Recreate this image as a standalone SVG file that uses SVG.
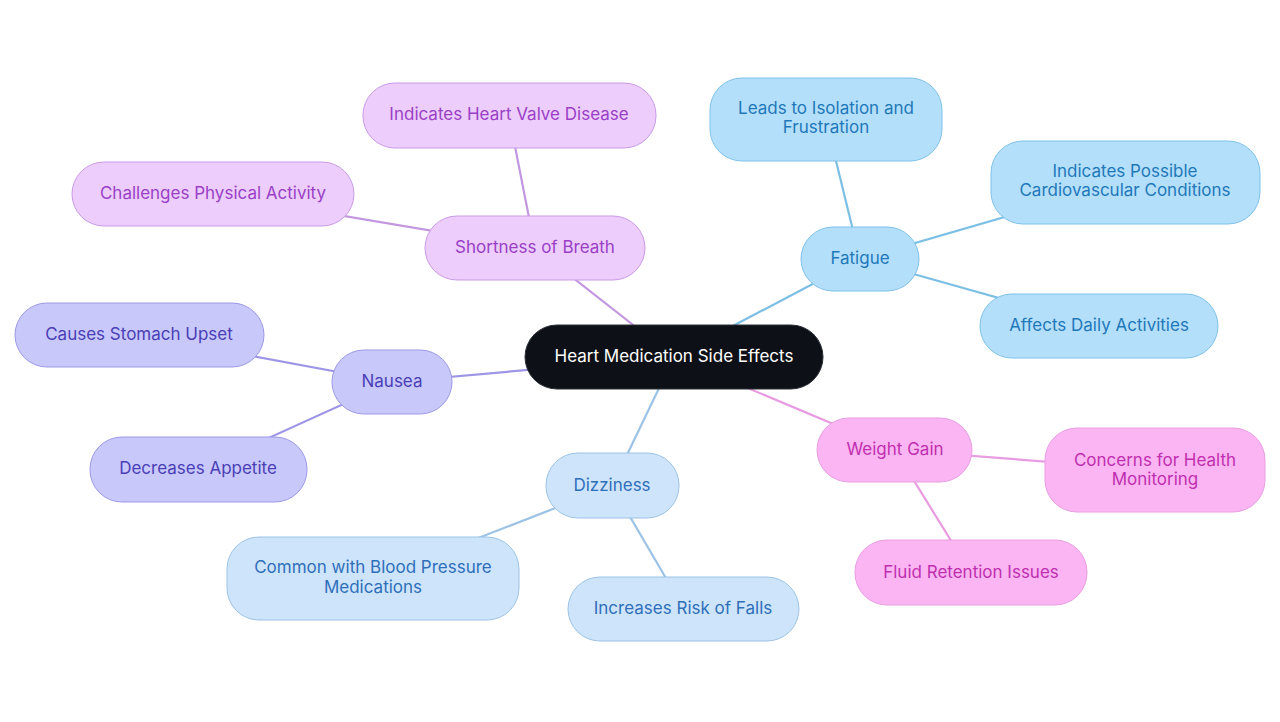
<svg xmlns="http://www.w3.org/2000/svg" width="1280" height="722" viewBox="0 0 1280 722">
<style>
text{font-family:Inter,"Noto Sans","Liberation Sans",sans-serif;font-size:17px;text-anchor:middle;dominant-baseline:central}
.c line{stroke-width:2.2;fill:none}
.blue rect{fill:#b3dffb;stroke:#7fc2ea;stroke-width:1}
.blue text{fill:#1f78b9}
.pur rect{fill:#eccdfb;stroke:#c99be6;stroke-width:1}
.pur text{fill:#9a3fc6}
.ind rect{fill:#c8c8fa;stroke:#9c99e6;stroke-width:1}
.ind text{fill:#4a3fb6}
.lb rect{fill:#cde4fa;stroke:#9cc3e6;stroke-width:1}
.lb text{fill:#2f6fba}
.pk rect{fill:#fbb5f3;stroke:#e89ee0;stroke-width:1}
.pk text{fill:#c02faf}
</style>
<rect width="1280" height="722" fill="#ffffff"/>
<g class="c" id="connectors">
<line x1="674" y1="357" x2="860" y2="259" stroke="#7cbfe4"/>
<line x1="860" y1="259" x2="826" y2="120" stroke="#7cbfe4"/>
<line x1="860" y1="259" x2="1125" y2="182" stroke="#7cbfe4"/>
<line x1="860" y1="259" x2="1099" y2="326" stroke="#7cbfe4"/>
<line x1="674" y1="357" x2="535" y2="248" stroke="#c397e0"/>
<line x1="535" y1="248" x2="509" y2="116" stroke="#c397e0"/>
<line x1="535" y1="248" x2="213" y2="194" stroke="#c397e0"/>
<line x1="674" y1="357" x2="392" y2="382" stroke="#9d96e6"/>
<line x1="392" y1="382" x2="140" y2="335" stroke="#9d96e6"/>
<line x1="392" y1="382" x2="198" y2="470" stroke="#9d96e6"/>
<line x1="674" y1="357" x2="612" y2="486" stroke="#9cc3e6"/>
<line x1="612" y1="486" x2="373" y2="579" stroke="#9cc3e6"/>
<line x1="612" y1="486" x2="684" y2="609" stroke="#9cc3e6"/>
<line x1="674" y1="357" x2="895" y2="450" stroke="#e89be0"/>
<line x1="895" y1="450" x2="1155" y2="470" stroke="#e89be0"/>
<line x1="895" y1="450" x2="971" y2="573" stroke="#e89be0"/>
</g>
<g id="root"><rect x="525" y="325" width="298" height="64" rx="32" fill="#0d1117" stroke="#2a2f36"/><text x="674" y="356" fill="#ffffff">Heart Medication Side Effects</text></g>
<g id="fatigue" class="blue"><rect x="801" y="227" width="118" height="64" rx="32"/><text x="860" y="258">Fatigue</text></g>
<g id="isolation" class="blue"><rect x="710" y="78" width="232" height="83" rx="32"/><text x="826" y="108">Leads to Isolation and</text><text x="826" y="127">Frustration</text></g>
<g id="cardio" class="blue"><rect x="991" y="141" width="269" height="83" rx="32"/><text x="1125" y="171">Indicates Possible</text><text x="1125" y="190">Cardiovascular Conditions</text></g>
<g id="daily" class="blue"><rect x="980" y="294" width="238" height="64" rx="32"/><text x="1099" y="325">Affects Daily Activities</text></g>
<g id="breath" class="pur"><rect x="425" y="216" width="220" height="64" rx="32"/><text x="535" y="247">Shortness of Breath</text></g>
<g id="valve" class="pur"><rect x="363" y="83" width="293" height="65" rx="32"/><text x="509" y="114">Indicates Heart Valve Disease</text></g>
<g id="physical" class="pur"><rect x="72" y="162" width="282" height="64" rx="32"/><text x="213" y="193">Challenges Physical Activity</text></g>
<g id="nausea" class="ind"><rect x="332" y="350" width="120" height="64" rx="32"/><text x="392" y="381">Nausea</text></g>
<g id="stomach" class="ind"><rect x="15" y="303" width="249" height="64" rx="32"/><text x="139" y="334">Causes Stomach Upset</text></g>
<g id="appetite" class="ind"><rect x="90" y="437" width="217" height="65" rx="32"/><text x="198" y="468">Decreases Appetite</text></g>
<g id="dizziness" class="lb"><rect x="546" y="453" width="133" height="65" rx="32"/><text x="612" y="485">Dizziness</text></g>
<g id="bp" class="lb"><rect x="227" y="537" width="292" height="83" rx="32"/><text x="373" y="567">Common with Blood Pressure</text><text x="373" y="587">Medications</text></g>
<g id="falls" class="lb"><rect x="568" y="577" width="231" height="64" rx="32"/><text x="683" y="608">Increases Risk of Falls</text></g>
<g id="weight" class="pk"><rect x="817" y="418" width="155" height="64" rx="32"/><text x="895" y="449">Weight Gain</text></g>
<g id="monitor" class="pk"><rect x="1045" y="428" width="220" height="84" rx="32"/><text x="1155" y="460">Concerns for Health</text><text x="1155" y="479">Monitoring</text></g>
<g id="fluid" class="pk"><rect x="855" y="540" width="232" height="65" rx="32"/><text x="971" y="572">Fluid Retention Issues</text></g>
</svg>
